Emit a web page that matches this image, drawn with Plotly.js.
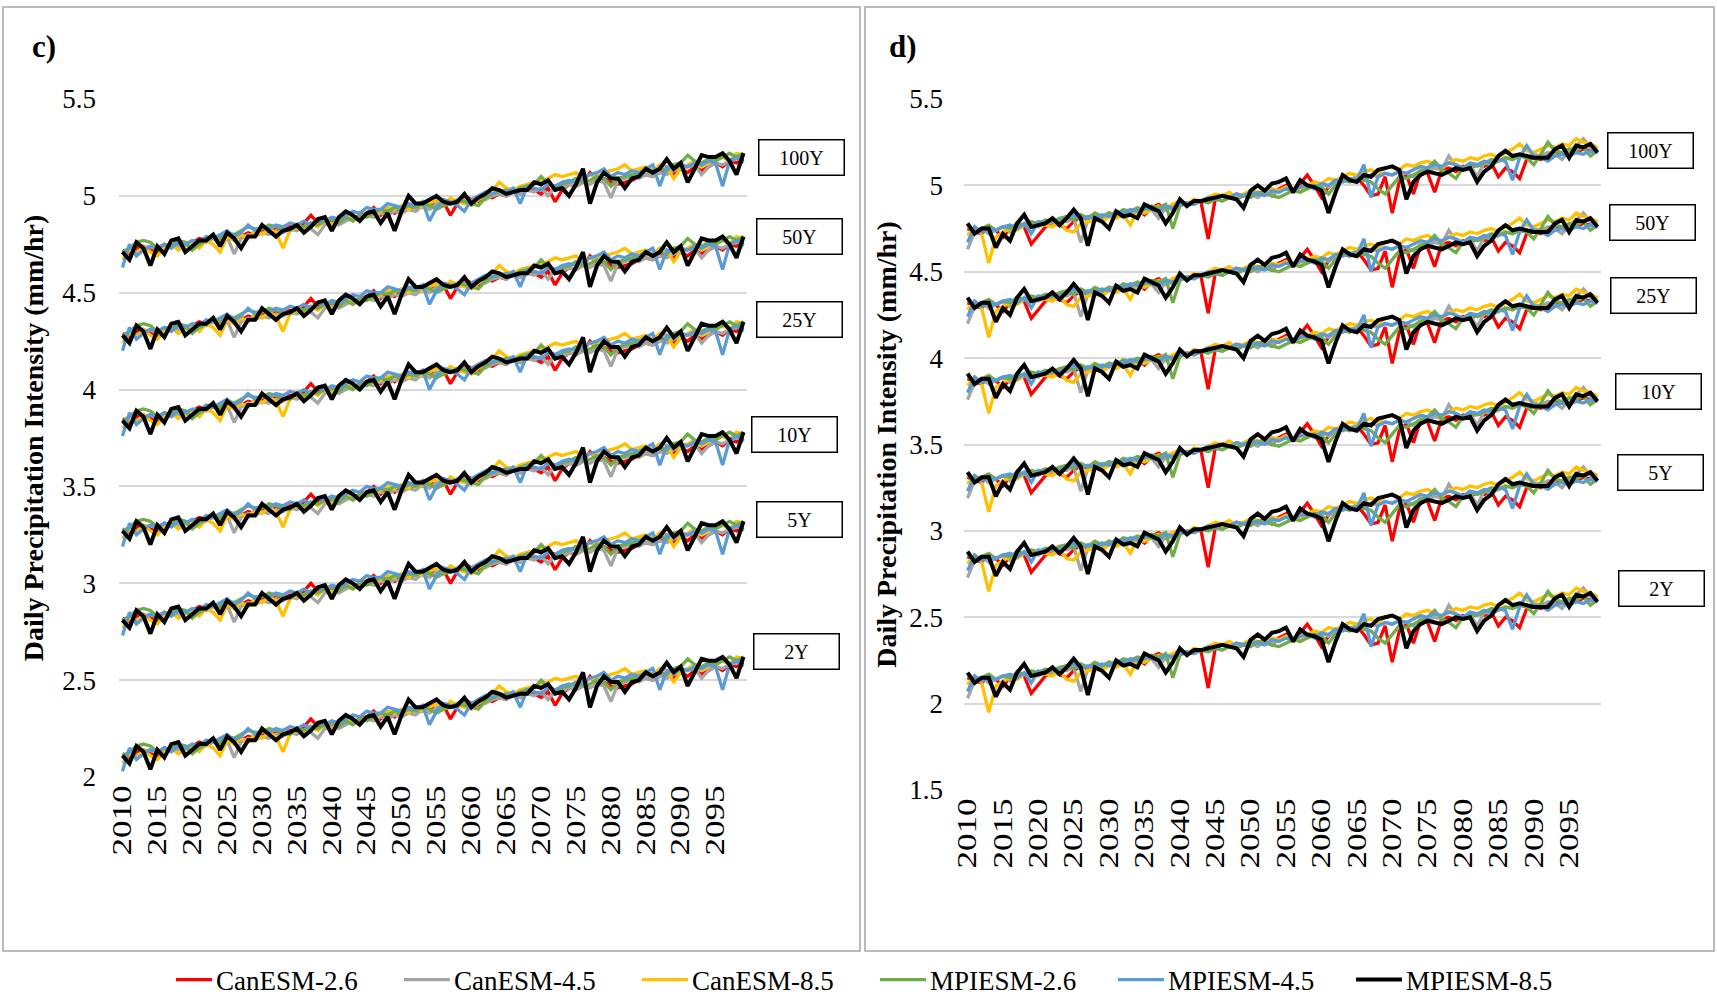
<!DOCTYPE html>
<html><head><meta charset="utf-8">
<script src="https://cdn.plot.ly/plotly-3.0.1.min.js"></script>
<style>html,body{margin:0;padding:0;background:#fff}#chart{width:1717px;height:998px}</style>
</head><body><div id="chart"></div>
<script>
// ---------------- DATA ----------------
const years = [2010,2011,2012,2013,2014,2015,2016,2017,2018,2019,2020,2021,2022,2023,2024,2025,2026,2027,2028,2029,
2030,2031,2032,2033,2034,2035,2036,2037,2038,2039,2040,2041,2042,2043,2044,2045,2046,2047,2048,2049,
2050,2051,2052,2053,2054,2055,2056,2057,2058,2059,2060,2061,2062,2063,2064,2065,2066,2067,2068,2069,
2070,2071,2072,2073,2074,2075,2076,2077,2078,2079,2080,2081,2082,2083,2084,2085,2086,2087,2088,2089,
2090,2091,2092,2093,2094,2095,2096,2097,2098,2099];
const tickYears = [2010,2015,2020,2025,2030,2035,2040,2045,2050,2055,2060,2065,2070,2075,2080,2085,2090,2095];
const models = ['CanESM-2.6','CanESM-4.5','CanESM-8.5','MPIESM-2.6','MPIESM-4.5','MPIESM-8.5'];
const returnPeriods = ['2Y','5Y','10Y','25Y','50Y','100Y'];
// level of each return-period curve above the 2Y curve (mm/hr)
const rpOffset = [0, 0.70, 1.16, 1.73, 2.17, 2.60];

// Panel c) – 2Y curves
const c_can26 = [2.12,2.10,2.13,2.14,2.12,2.11,2.15,2.14,2.17,2.15,
2.16,2.18,2.17,2.19,2.17,2.20,2.18,2.19,2.21,2.20,
2.22,2.21,2.23,2.22,2.24,2.23,2.26,2.30,2.26,2.27,
2.26,2.28,2.29,2.28,2.30,2.31,2.34,2.30,2.33,2.31,
2.34,2.33,2.35,2.34,2.36,2.35,2.37,2.30,2.36,2.40,
2.38,2.37,2.40,2.39,2.41,2.40,2.43,2.41,2.44,2.43,
2.41,2.44,2.37,2.43,2.46,2.45,2.47,2.52,2.48,2.49,
2.47,2.46,2.47,2.48,2.50,2.51,2.50,2.52,2.53,2.51,
2.54,2.52,2.55,2.53,2.55,2.57,2.55,2.58,2.57,2.59];
const c_can45 = [2.10,2.12,2.11,2.13,2.14,2.12,2.13,2.15,2.14,2.16,
2.15,2.17,2.16,2.18,2.16,2.19,2.10,2.18,2.20,2.19,
2.21,2.20,2.22,2.21,2.23,2.22,2.24,2.23,2.20,2.25,
2.26,2.25,2.27,2.29,2.28,2.30,2.29,2.31,2.30,2.32,
2.31,2.33,2.32,2.35,2.33,2.36,2.35,2.37,2.36,2.38,
2.37,2.39,2.38,2.40,2.41,2.40,2.42,2.41,2.43,2.42,
2.44,2.40,2.45,2.44,2.46,2.45,2.47,2.46,2.48,2.47,
2.39,2.48,2.49,2.50,2.49,2.51,2.50,2.52,2.51,2.53,
2.54,2.55,2.56,2.51,2.55,2.57,2.56,2.58,2.59,2.60];
const c_can85 = [2.07,2.12,2.10,2.14,2.11,2.09,2.13,2.15,2.12,2.14,
2.16,2.13,2.17,2.15,2.11,2.19,2.17,2.20,2.18,2.22,
2.20,2.23,2.21,2.13,2.22,2.24,2.22,2.26,2.24,2.27,
2.25,2.28,2.30,2.27,2.29,2.31,2.30,2.32,2.34,2.33,
2.35,2.33,2.36,2.34,2.36,2.38,2.35,2.39,2.37,2.36,
2.35,2.38,2.41,2.43,2.47,2.44,2.43,2.45,2.46,2.47,
2.48,2.49,2.51,2.50,2.51,2.52,2.49,2.51,2.50,2.52,
2.53,2.54,2.56,2.53,2.54,2.55,2.53,2.56,2.55,2.49,
2.54,2.56,2.58,2.55,2.57,2.59,2.60,2.58,2.62,2.61];
const c_mpi26 = [2.11,2.13,2.16,2.17,2.16,2.13,2.15,2.14,2.17,2.16,
2.12,2.15,2.17,2.19,2.18,2.21,2.20,2.22,2.24,2.23,
2.23,2.25,2.24,2.23,2.22,2.25,2.24,2.26,2.25,2.27,
2.28,2.26,2.29,2.27,2.30,2.29,2.31,2.33,2.32,2.34,
2.33,2.35,2.34,2.36,2.35,2.33,2.35,2.36,2.38,2.37,
2.36,2.35,2.39,2.41,2.42,2.43,2.42,2.44,2.45,2.46,
2.50,2.46,2.45,2.46,2.47,2.49,2.47,2.48,2.50,2.49,
2.45,2.49,2.50,2.51,2.52,2.53,2.52,2.54,2.53,2.56,
2.57,2.61,2.58,2.57,2.59,2.58,2.60,2.62,2.60,2.62];
const c_mpi45 = [2.03,2.15,2.09,2.12,2.14,2.13,2.15,2.13,2.16,2.15,
2.17,2.16,2.19,2.18,2.20,2.22,2.19,2.21,2.25,2.22,
2.24,2.23,2.25,2.24,2.26,2.25,2.27,2.25,2.28,2.27,
2.29,2.28,2.30,2.32,2.31,2.34,2.33,2.33,2.36,2.35,
2.34,2.36,2.35,2.37,2.27,2.34,2.38,2.37,2.35,2.32,
2.38,2.40,2.42,2.41,2.43,2.42,2.44,2.36,2.45,2.44,
2.43,2.46,2.45,2.47,2.48,2.47,2.49,2.51,2.52,2.54,
2.50,2.52,2.51,2.53,2.52,2.54,2.56,2.45,2.55,2.54,
2.56,2.55,2.57,2.56,2.58,2.57,2.45,2.58,2.60,2.57];
const c_mpi85 = [2.11,2.07,2.16,2.13,2.04,2.14,2.10,2.17,2.18,2.11,
2.14,2.17,2.17,2.20,2.14,2.21,2.18,2.13,2.19,2.19,
2.25,2.22,2.19,2.22,2.23,2.25,2.21,2.24,2.28,2.29,
2.22,2.29,2.32,2.30,2.27,2.31,2.32,2.26,2.31,2.22,
2.32,2.40,2.36,2.36,2.38,2.40,2.37,2.36,2.37,2.41,
2.36,2.39,2.41,2.44,2.43,2.41,2.42,2.43,2.43,2.47,
2.46,2.48,2.43,2.44,2.40,2.46,2.54,2.36,2.47,2.52,
2.49,2.49,2.44,2.49,2.50,2.54,2.52,2.54,2.59,2.54,
2.57,2.47,2.54,2.61,2.60,2.60,2.62,2.58,2.51,2.62];

// Panel d) – 2Y curves
const d_can26 = [2.15,2.13,2.12,2.16,2.14,2.10,2.15,2.17,2.16,2.06,
2.11,2.16,2.18,2.17,2.15,2.19,2.22,2.20,2.23,2.21,
2.24,2.22,2.25,2.24,2.26,2.23,2.27,2.29,2.26,2.28,
2.30,2.29,2.31,2.30,2.09,2.32,2.34,2.33,2.35,2.34,
2.36,2.35,2.37,2.34,2.38,2.40,2.37,2.41,2.46,2.40,
2.33,2.39,2.42,2.44,2.43,2.45,2.40,2.34,2.35,2.45,
2.24,2.42,2.46,2.35,2.48,2.47,2.36,2.49,2.50,2.48,
2.51,2.50,2.52,2.51,2.53,2.45,2.50,2.48,2.44,2.55,
2.56,2.55,2.57,2.59,2.58,2.60,2.59,2.61,2.60,2.59];
const d_can45 = [2.03,2.13,2.15,2.12,2.14,2.16,2.13,2.15,2.17,2.18,
2.16,2.19,2.18,2.20,2.19,2.21,2.07,2.20,2.22,2.21,
2.23,2.22,2.24,2.23,2.25,2.24,2.26,2.21,2.27,2.26,
2.28,2.30,2.29,2.31,2.30,2.32,2.31,2.33,2.32,2.34,
2.35,2.33,2.36,2.35,2.37,2.38,2.36,2.39,2.38,2.40,
2.41,2.39,2.42,2.44,2.43,2.45,2.44,2.46,2.45,2.47,
2.46,2.48,2.47,2.45,2.49,2.48,2.50,2.49,2.57,2.51,
2.50,2.52,2.45,2.53,2.52,2.54,2.56,2.55,2.57,2.56,
2.58,2.57,2.59,2.58,2.55,2.60,2.63,2.67,2.62,2.61];
const d_can85 = [2.11,2.16,2.12,1.95,2.10,2.13,2.15,2.14,2.17,2.16,
2.18,2.17,2.16,2.19,2.14,2.13,2.18,2.19,2.20,2.19,
2.22,2.21,2.23,2.17,2.25,2.24,2.26,2.28,2.27,2.29,
2.31,2.29,2.32,2.31,2.33,2.35,2.34,2.36,2.33,2.35,
2.37,2.36,2.35,2.38,2.37,2.39,2.38,2.36,2.40,2.42,
2.41,2.44,2.43,2.45,2.47,2.46,2.48,2.49,2.47,2.50,
2.51,2.49,2.52,2.51,2.53,2.54,2.52,2.50,2.53,2.55,
2.54,2.56,2.55,2.57,2.58,2.56,2.59,2.61,2.64,2.60,
2.59,2.61,2.63,2.62,2.64,2.63,2.67,2.65,2.64,2.62];
const d_mpi26 = [2.16,2.14,2.15,2.17,2.14,2.16,2.15,2.18,2.17,2.19,
2.18,2.20,2.19,2.21,2.22,2.20,2.23,2.21,2.24,2.22,
2.24,2.23,2.26,2.25,2.27,2.26,2.28,2.27,2.29,2.15,
2.28,2.30,2.29,2.31,2.30,2.32,2.31,2.33,2.32,2.34,
2.33,2.36,2.35,2.34,2.33,2.35,2.37,2.36,2.38,2.40,
2.39,2.35,2.40,2.43,2.42,2.44,2.43,2.42,2.38,2.35,
2.40,2.45,2.44,2.46,2.48,2.50,2.54,2.49,2.47,2.44,
2.50,2.52,2.51,2.53,2.55,2.54,2.56,2.55,2.57,2.56,
2.52,2.58,2.65,2.60,2.59,2.61,2.60,2.62,2.57,2.60];
const d_mpi45 = [2.07,2.16,2.13,2.15,2.14,2.16,2.17,2.15,2.18,2.12,
2.19,2.18,2.20,2.19,2.21,2.23,2.20,2.22,2.21,2.23,
2.22,2.25,2.24,2.26,2.25,2.27,2.26,2.25,2.28,2.27,
2.29,2.30,2.29,2.31,2.33,2.32,2.34,2.33,2.35,2.34,
2.36,2.35,2.34,2.37,2.36,2.38,2.37,2.39,2.40,2.38,
2.41,2.40,2.43,2.42,2.44,2.43,2.52,2.33,2.45,2.47,
2.46,2.48,2.47,2.49,2.51,2.50,2.52,2.51,2.53,2.52,
2.50,2.53,2.52,2.54,2.53,2.55,2.54,2.43,2.56,2.63,
2.57,2.56,2.54,2.57,2.58,2.57,2.59,2.58,2.60,2.59];
const d_mpi85 = [2.18,2.12,2.15,2.15,2.04,2.12,2.08,2.18,2.23,2.16,
2.17,2.18,2.21,2.17,2.21,2.26,2.21,2.05,2.21,2.19,
2.15,2.25,2.22,2.23,2.21,2.29,2.27,2.25,2.18,2.24,
2.32,2.28,2.31,2.31,2.32,2.33,2.34,2.33,2.32,2.27,
2.37,2.40,2.37,2.41,2.42,2.44,2.36,2.43,2.40,2.39,
2.37,2.24,2.36,2.46,2.43,2.42,2.46,2.45,2.49,2.50,
2.51,2.49,2.32,2.42,2.46,2.48,2.47,2.46,2.48,2.50,
2.49,2.50,2.42,2.48,2.51,2.57,2.60,2.57,2.58,2.57,
2.56,2.56,2.56,2.61,2.63,2.56,2.63,2.62,2.64,2.59];

// ---------------- STYLE ----------------
const W = 1717, H = 998;
const FONT = "'Liberation Serif', 'Times New Roman', Times, serif";
const colors = ['#FF0000','#A5A5A5','#FFC000','#70AD47','#5B9BD5','#000000'];
const panels = [
  {series:[c_can26,c_can45,c_can85,c_mpi26,c_mpi45,c_mpi85], xa:'x', ya:'y'},
  {series:[d_can26,d_can45,d_can85,d_mpi26,d_mpi45,d_mpi85], xa:'x2', ya:'y2'}
];

const traces = [];
panels.forEach((p, pi) => {
  models.forEach((m, mi) => {
    returnPeriods.forEach((rp, ri) => {
      traces.push({
        type:'scatter', mode:'lines',
        x: years,
        y: p.series[mi].map(v => Math.round((v + rpOffset[ri]) * 1000) / 1000),
        xaxis: p.xa, yaxis: p.ya,
        name: m, legendgroup: m,
        showlegend: (pi === 0 && ri === 0),
        line: {color: colors[mi], width: mi === 5 ? 4 : 3.3},
        hoverinfo: 'x+y+name'
      });
    });
  });
});

const px = v => v / W, py = v => 1 - v / H;

const boxPos = [
  [[796.5,651.5],[799,519],[794,434.5],[799,319.5],[799,236],[801,157.5]],
  [[1661,588],[1660,472],[1658.5,392],[1653.5,295.5],[1652.5,222.5],[1650,151]]
];
const annotations = [];
boxPos.forEach(list => list.forEach((pos, ri) => {
  annotations.push({xref:'paper', yref:'paper', x:px(pos[0]), y:py(pos[1]),
    text: returnPeriods[ri], showarrow:false,
    font:{family:FONT, size:20, color:'#000'},
    bordercolor:'#000', borderwidth:1.5, borderpad:0, bgcolor:'#fff',
    width:84, height:34, xanchor:'center', yanchor:'middle'});
}));
annotations.push({xref:'paper', yref:'paper', x:px(44), y:py(46), text:'c)', showarrow:false,
  font:{family:FONT, size:31, color:'#000', weight:'bold'}, xanchor:'center', yanchor:'middle'});
annotations.push({xref:'paper', yref:'paper', x:px(903), y:py(46), text:'d)', showarrow:false,
  font:{family:FONT, size:31, color:'#000', weight:'bold'}, xanchor:'center', yanchor:'middle'});

function xAxis(domain, anchor){
  return {domain, anchor, range:[2009.5, 2099.5], tickmode:'array',
    tickvals: tickYears, ticktext: tickYears.map(String), tickangle:-90,
    showgrid:false, zeroline:false, showline:false, ticks:'',
    ticklabelstandoff: 2, tickfont: {family:FONT, size:27, color:'#000'},
    automargin:false, fixedrange:true};
}
function yAxis(domain, anchor, range, standoff, titleStandoff){
  return {domain, anchor, range, dtick:0.5, tick0:0, tickmode:'linear',
    showgrid:true, gridcolor:'#D9D9D9', gridwidth:2, zeroline:false, showline:false,
    ticks:'', ticklabelstandoff: standoff, tickfont: {family:FONT, size:27, color:'#000'},
    automargin:false, fixedrange:true,
    title:{text:'Daily Precipitation Intensity (mm/hr)', standoff:titleStandoff,
      font:{family:FONT, size:28, color:'#000', weight:'bold'}}};
}

const layout = {
  width: W, height: H,
  margin:{l:0, r:0, t:0, b:0, pad:0, autoexpand:false},
  paper_bgcolor:'#fff', plot_bgcolor:'rgba(0,0,0,0)',
  font:{family:FONT, color:'#000'},
  xaxis: xAxis([px(119), px(747)], 'y'),
  yaxis: yAxis([py(777), py(99)], 'x', [2, 5.5], 22, 10),
  xaxis2: xAxis([px(964), px(1601)], 'y2'),
  yaxis2: yAxis([py(790), py(99)], 'x2', [1.5, 5.5], 20, 4),
  showlegend: true,
  legend:{orientation:'h', x:px(176), xanchor:'left', y:py(980), yanchor:'middle',
    font:{family:FONT, size:27, color:'#000'}, entrywidth:193, entrywidthmode:'pixels',
    bgcolor:'rgba(0,0,0,0)', traceorder:'normal'},
  shapes:[
    {type:'rect', xref:'paper', yref:'paper', x0:px(3), x1:px(860), y0:py(951), y1:py(7),
      line:{color:'#A6A6A6', width:1.5}, fillcolor:'rgba(0,0,0,0)', layer:'below'},
    {type:'rect', xref:'paper', yref:'paper', x0:px(865), x1:px(1714), y0:py(951), y1:py(7),
      line:{color:'#A6A6A6', width:1.5}, fillcolor:'rgba(0,0,0,0)', layer:'below'}
  ],
  annotations
};

Plotly.newPlot('chart', traces, layout, {displayModeBar:false, staticPlot:true}).then(gd => {
  // year labels in the original are drawn elongated along their reading direction
  gd.querySelectorAll('g.xtick text, g.x2tick text').forEach(t => {
    const tx = parseFloat(t.getAttribute('x')) || 0;
    const ty = parseFloat(t.getAttribute('y')) || 0;
    const tr = t.getAttribute('transform') || '';
    t.setAttribute('transform', tr + ' translate(' + tx + ',' + ty + ') scale(1.3,1) translate(' + (-tx) + ',' + (-ty) + ')');
  });
  // longer legend line samples, as in the original
  gd.querySelectorAll('.legend .legendlines path').forEach(p => p.setAttribute('d', 'M-10,0h46'));
});
</script>
</body></html>
